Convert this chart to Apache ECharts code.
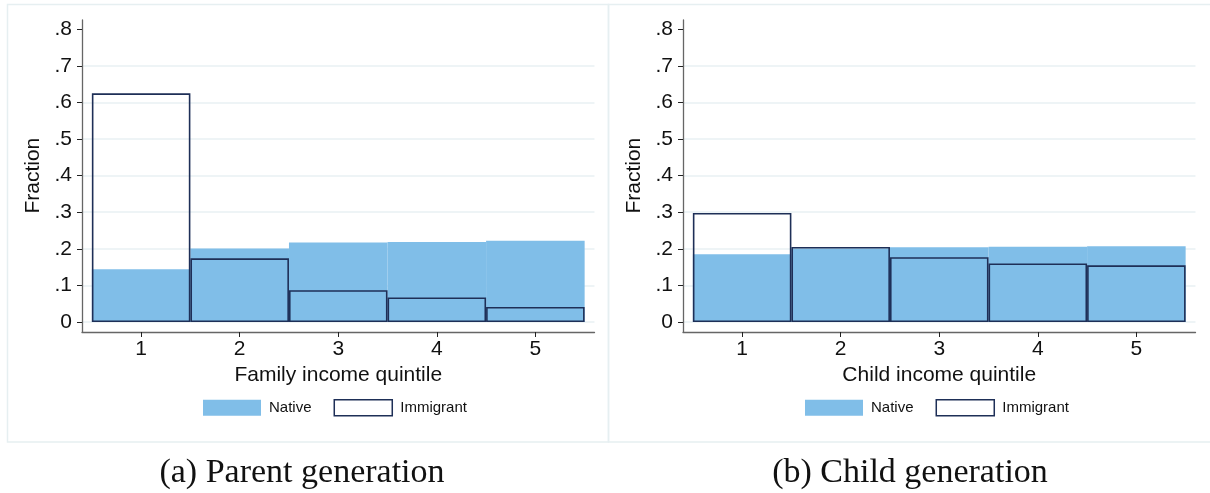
<!DOCTYPE html>
<html>
<head>
<meta charset="utf-8">
<script src="https://cdn.jsdelivr.net/npm/echarts@6/dist/echarts.min.js"></script>
<style>
html,body{margin:0;padding:0;background:#fff;}
#chart{width:1210px;height:493px;}
</style>
</head>
<body>
<div id="chart"></div>
<script>
// ---- data ----
const quintiles = [1, 2, 3, 4, 5];
const parentNative = [0.144, 0.201, 0.217, 0.219, 0.222];
const parentImmigrant = [0.625, 0.174, 0.087, 0.067, 0.041];
const childNative = [0.185, 0.201, 0.204, 0.206, 0.207];
const childImmigrant = [0.298, 0.205, 0.177, 0.160, 0.155];
const yTickValues = [0, 0.1, 0.2, 0.3, 0.4, 0.5, 0.6, 0.7, 0.8];
const seriesNames = ['Native', 'Immigrant'];
const xTitles = ['Family income quintile', 'Child income quintile'];
const yTitle = 'Fraction';
const captions = ['(a) Parent generation', '(b) Child generation'];

// ---- styles ----
const FONT = 'Liberation Sans';
const NATIVE_COLOR = '#80bee8';
const IMM_COLOR = '#1e2f57';
const GRID_COLOR = '#e9f1f3';
const AXIS_COLOR = '#666';
const TICK_COLOR = '#222';

const panels = [
  {left: 82, native: parentNative, imm: parentImmigrant, xTitle: xTitles[0], legendLeft: 203},
  {left: 683, native: childNative, imm: childImmigrant, xTitle: xTitles[1], legendLeft: 805}
];
const PW = 512.5;
const Y0 = 322, YTOP = 29.33;       // pixel of 0 and .8
const PX_PER = (Y0 - YTOP) / 0.8;
const FTOP = 20, FBOT = 332;

const grid = [], xAxis = [], yAxis = [], series = [], legend = [];
const toPairs = (vals) => quintiles.map((q, i) => [q, vals[i]]);

panels.forEach((p, k) => {
  const gp = grid.length;
  grid.push({left: p.left, top: YTOP, width: PW, height: Y0 - YTOP});
  const gf = grid.length;
  grid.push({left: p.left, top: FTOP, width: PW, height: FBOT - FTOP});

  // plot grid axes
  xAxis.push({gridIndex: gp, type: 'value', min: 0.4, max: 5.6, show: false});
  yAxis.push({
    gridIndex: gp, type: 'value', min: 0, max: 0.8, interval: 0.1,
    axisLine: {show: false},
    axisTick: {show: true, length: 5, lineStyle: {color: TICK_COLOR, width: 1}},
    axisLabel: {
      margin: 10, fontFamily: FONT, fontSize: 21, color: '#111',
      customValues: yTickValues,
      formatter: v => v === 0 ? '0' : v.toFixed(1).replace(/^0/, '')
    },
    splitLine: {show: true, showMaxLine: false, lineStyle: {color: GRID_COLOR, width: 1.5}},
    name: yTitle, nameLocation: 'middle', nameGap: 38,
    nameTextStyle: {fontFamily: FONT, fontSize: 21, color: '#111'}
  });
  // frame grid axes
  xAxis.push({
    gridIndex: gf, type: 'value', min: 0.4, max: 5.6,
    axisLine: {show: true, onZero: false, lineStyle: {color: AXIS_COLOR, width: 1.3}},
    axisTick: {show: true, length: 5, customValues: quintiles, lineStyle: {color: TICK_COLOR, width: 1}},
    axisLabel: {show: true, customValues: quintiles, margin: 7, fontFamily: FONT, fontSize: 21, color: '#111'},
    splitLine: {show: false},
    name: p.xTitle, nameLocation: 'middle', nameGap: 25,
    nameTextStyle: {fontFamily: FONT, fontSize: 21, color: '#111'}
  });
  yAxis.push({
    gridIndex: gf, type: 'value',
    min: -(FBOT - Y0) / PX_PER, max: 0.8 + (YTOP - FTOP) / PX_PER,
    axisLine: {show: true, onZero: false, lineStyle: {color: AXIS_COLOR, width: 1.3}},
    axisTick: {show: false}, axisLabel: {show: false}, splitLine: {show: false}
  });

  series.push({
    name: seriesNames[0], type: 'bar', xAxisIndex: gp, yAxisIndex: gp,
    data: toPairs(p.native), barWidth: '100%', barGap: '-100%', z: 2,
    itemStyle: {color: NATIVE_COLOR}, silent: true, animation: false
  });
  series.push({
    name: seriesNames[1], type: 'bar', xAxisIndex: gp, yAxisIndex: gp,
    data: toPairs(p.imm), barWidth: '100%', barGap: '-100%', z: 3,
    itemStyle: {color: 'rgba(0,0,0,0)', borderColor: IMM_COLOR, borderWidth: 1.6},
    silent: true, animation: false
  });

  legend.push({
    left: p.legendLeft, top: 399, padding: 0, itemWidth: 58, itemHeight: 16, itemGap: 22,
    icon: 'rect', selectedMode: false,
    textStyle: {fontFamily: FONT, fontSize: 15, color: '#111', padding: [0, 0, 0, 3]},
    data: [
      {name: seriesNames[0], itemStyle: {color: NATIVE_COLOR, borderWidth: 0}},
      {name: seriesNames[1], itemStyle: {color: '#fff', borderColor: IMM_COLOR, borderWidth: 1.5}}
    ]
  });
});

const graphic = [
  {type: 'rect', shape: {x: 7.5, y: 4.5, width: 601, height: 437.5}, style: {fill: 'none', stroke: '#e6eff1', lineWidth: 1.5}, z: -10},
  {type: 'rect', shape: {x: 608.5, y: 4.5, width: 620, height: 437.5}, style: {fill: 'none', stroke: '#e6eff1', lineWidth: 1.5}, z: -10},
  {type: 'text', x: 302, y: 473, style: {text: captions[0], font: '34px "Liberation Serif"', fill: '#111', textAlign: 'center', textVerticalAlign: 'middle'}},
  {type: 'text', x: 910, y: 473, style: {text: captions[1], font: '34px "Liberation Serif"', fill: '#111', textAlign: 'center', textVerticalAlign: 'middle'}}
];

const chart = echarts.init(document.getElementById('chart'), null, {renderer: 'canvas'});
chart.setOption({
  animation: false,
  backgroundColor: '#fff',
  grid, xAxis, yAxis, series, legend, graphic
});
</script>
</body>
</html>
